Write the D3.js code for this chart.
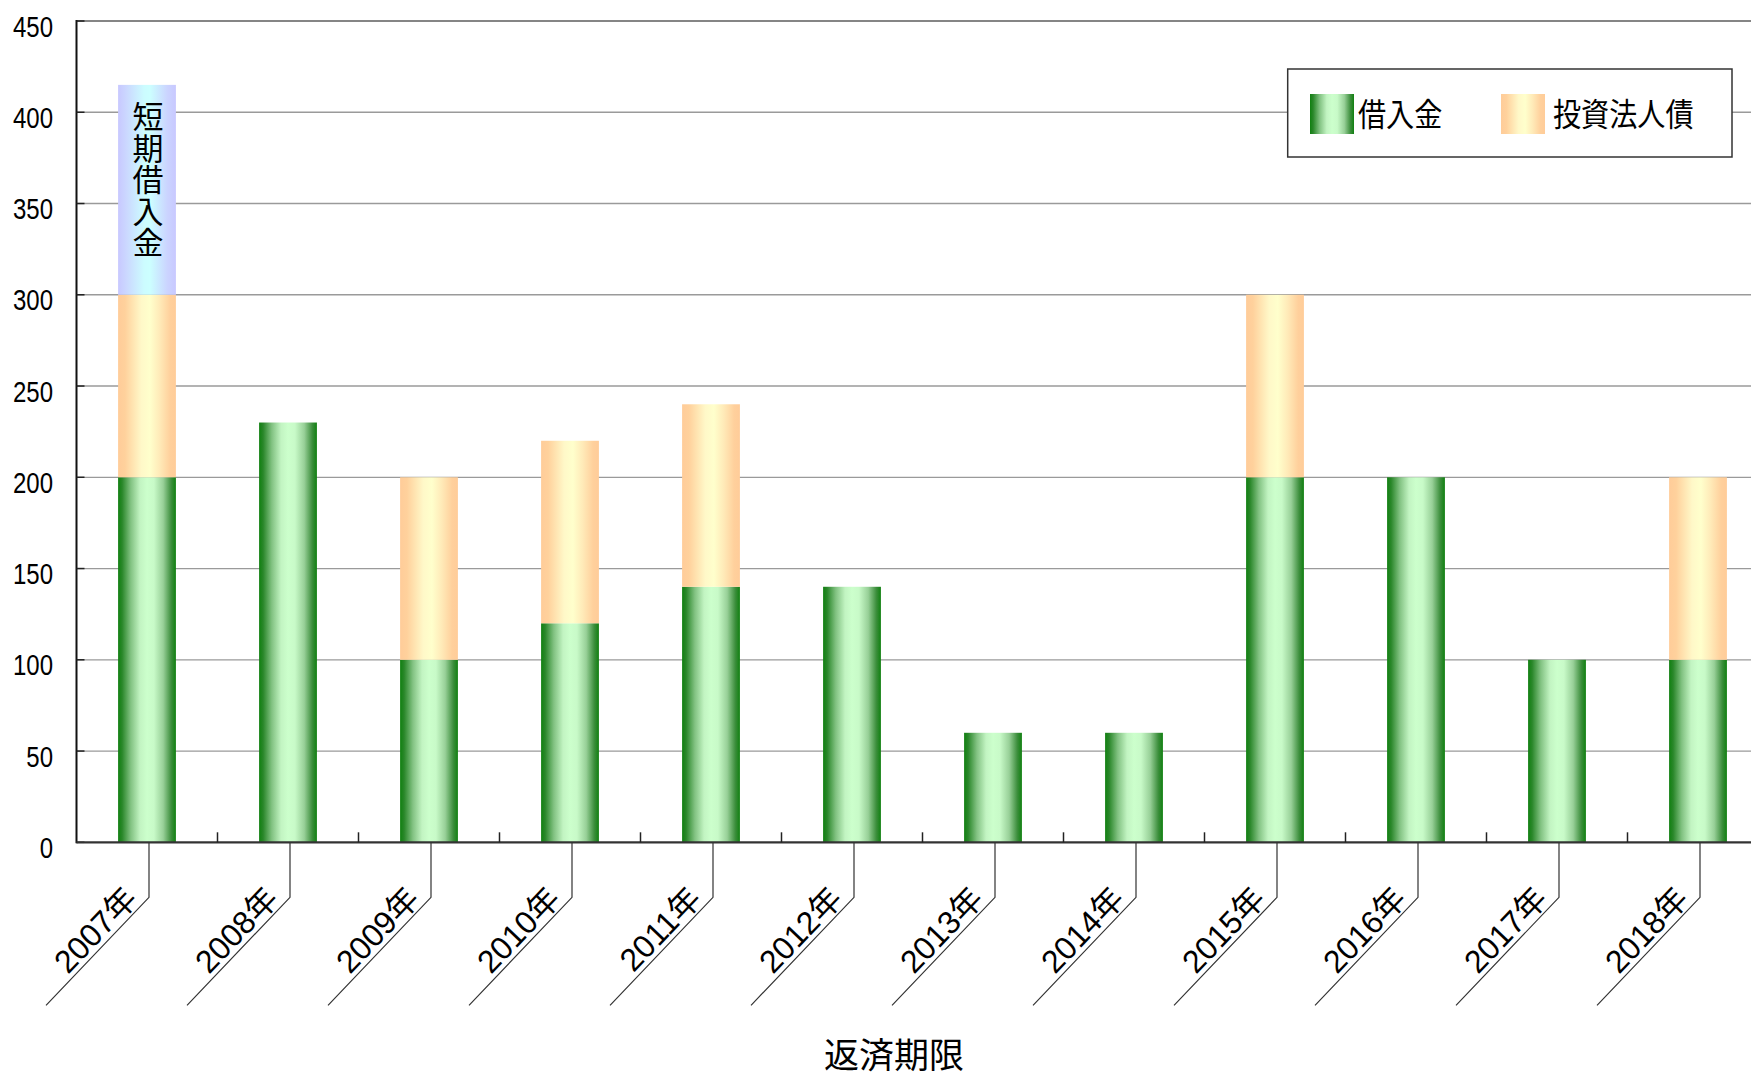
<!DOCTYPE html>
<html><head><meta charset="utf-8">
<script src="https://cdn.jsdelivr.net/npm/d3@7"></script>
<style>html,body{margin:0;padding:0;background:#fff;}svg{display:block;}</style>
</head><body>
<svg id="c" width="1751" height="1077"></svg>
<script>
// ---- data ----
const years = ['2007年','2008年','2009年','2010年','2011年','2012年','2013年','2014年','2015年','2016年','2017年','2018年'];
const loans = [200,230,100,120,140,140,60,60,200,200,100,100];      // 借入金
const bonds = [100,0,100,100,100,0,0,0,100,0,0,100];                // 投資法人債
const shortTerm = [115,0,0,0,0,0,0,0,0,0,0,0];                       // 短期借入金
const yTicks = [0,50,100,150,200,250,300,350,400,450];
const seriesNames = ['借入金','投資法人債'];
const shortLabel = '短期借入金';
const xTitle = '返済期限';

(function () {
const svg = d3.select('#c');
const pLeft = 76.5, pTop = 21, pBottom = 842.3, step = 141;
const x = d3.scaleBand().domain(years).range([pLeft, pLeft + step * years.length]).padding(0);
const y = d3.scaleLinear().domain([0, 450]).range([pBottom, pTop]);
const barW = x.bandwidth() * 0.41;

const latin = '"Liberation Sans", Arial, sans-serif';
const cjk = '"Noto Sans CJK JP", "Noto Sans CJK SC", sans-serif';

// ---- gradients ----
const defs = svg.append('defs');
function grad(id, stops) {
  const g = defs.append('linearGradient').attr('id', id).attr('x1', '0%').attr('x2', '100%').attr('y1', '0%').attr('y2', '0%');
  stops.forEach(s => g.append('stop').attr('offset', s[0]).attr('stop-color', s[1]));
}
grad('gGreen', [[0,'#108010'],[0.07,'#2a872a'],[0.22,'#82c282'],[0.38,'#c2f4c2'],[0.5,'#ccffcc'],[0.62,'#c8fac8'],[0.78,'#98d098'],[0.92,'#3c8e3c'],[1,'#108010']]);
grad('gOrange', [[0,'#ffcc99'],[0.12,'#ffd19c'],[0.4,'#fff8c8'],[0.55,'#ffffcc'],[0.72,'#ffeab8'],[0.9,'#ffd09c'],[1,'#ffcc99']]);
grad('gBlue', [[0,'#c8c8ff'],[0.15,'#cbd8ff'],[0.45,'#ccfcff'],[0.55,'#ccffff'],[0.85,'#cbd4ff'],[1,'#c8c8ff']]);

// ---- grid ----
svg.append('g').selectAll('line').data(yTicks.filter(d => d > 0 && d < 450)).join('line')
  .attr('x1', pLeft).attr('x2', x.range()[1]).attr('y1', d => y(d)).attr('y2', d => y(d))
  .attr('stroke', '#9a9a9a').attr('stroke-width', 1.3);
svg.append('line').attr('x1', pLeft).attr('x2', x.range()[1]).attr('y1', y(450)).attr('y2', y(450))
  .attr('stroke', '#858585').attr('stroke-width', 2.2);

// ---- bars ----
const rows = years.map((yr, i) => ({year: yr, loans: loans[i], bonds: bonds[i], short: shortTerm[i]}));
const keys = ['loans', 'bonds', 'short'];
const fills = {loans: 'url(#gGreen)', bonds: 'url(#gOrange)', short: 'url(#gBlue)'};
const stacked = d3.stack().keys(keys)(rows);
const gBars = svg.append('g');
stacked.forEach(layer => {
  gBars.selectAll(null).data(layer.filter(d => d[1] > d[0])).join('rect')
    .attr('x', d => x(d.data.year) + (x.bandwidth() - barW) / 2)
    .attr('width', barW)
    .attr('y', d => y(d[1]))
    .attr('height', d => y(d[0]) - y(d[1]))
    .attr('fill', fills[layer.key]);
});

// short-term label (vertical, one text element)
stacked[2].forEach(d => {
  if (d[1] > d[0]) {
    const cx = x(d.data.year) + x.bandwidth() / 2 + 1;
    const t0 = y(d[1]);
    svg.append('text')
      .attr('x', cx).attr('y', t0 + 16)
      .style('writing-mode', 'vertical-rl').style('text-orientation', 'upright')
      .attr('letter-spacing', 0.5)
      .attr('font-family', cjk).attr('font-size', 31)
      .attr('fill', '#000').text(shortLabel);
  }
});

// ---- y axis ----
svg.append('line').attr('x1', pLeft).attr('x2', pLeft).attr('y1', pTop - 1).attr('y2', pBottom + 1)
  .attr('stroke', '#111').attr('stroke-width', 2);
svg.append('g').selectAll('line').data(yTicks).join('line')
  .attr('x1', pLeft).attr('x2', pLeft + 8).attr('y1', d => y(d)).attr('y2', d => y(d))
  .attr('stroke', '#222').attr('stroke-width', 1.5);
svg.append('g').selectAll('text').data(yTicks).join('text')
  .attr('transform', d => `translate(53,${y(d) + 15.5}) scale(0.8,1)`)
  .attr('text-anchor', 'end').attr('font-family', latin).attr('font-size', 30).attr('fill', '#000')
  .text(d => d);

// ---- x axis ----
svg.append('line').attr('x1', pLeft).attr('x2', x.range()[1]).attr('y1', pBottom).attr('y2', pBottom)
  .attr('stroke', '#333').attr('stroke-width', 2.2);
svg.append('g').selectAll('line').data(years.slice(1)).join('line')
  .attr('x1', d => x(d)).attr('x2', d => x(d)).attr('y1', pBottom).attr('y2', pBottom - 10)
  .attr('stroke', '#222').attr('stroke-width', 1.5);

const knee = 55, dx = 103, dy = 108;
const ang = -Math.atan2(dy, dx) * 180 / Math.PI;
const gl = svg.append('g');
years.forEach(yr => {
  const cx = x(yr) + x.bandwidth() / 2 + 2;
  gl.append('path')
    .attr('d', `M${cx},${pBottom} L${cx},${pBottom + knee} L${cx - dx},${pBottom + knee + dy}`)
    .attr('fill', 'none').attr('stroke', '#333').attr('stroke-width', 1.2);
  gl.append('text')
    .attr('transform', `translate(${cx},${pBottom + knee}) rotate(${ang})`)
    .attr('x', -9).attr('y', -5)
    .attr('text-anchor', 'end').attr('font-family', latin + ',' + cjk).attr('font-size', 32)
    .attr('fill', '#000').text(yr);
});

svg.append('text').attr('x', 894).attr('y', 1068).attr('text-anchor', 'middle')
  .attr('font-family', cjk).attr('font-size', 35).attr('fill', '#000').text(xTitle);

// ---- legend ----
const lg = svg.append('g');
lg.append('rect').attr('x', 1287.7).attr('y', 69).attr('width', 444.3).attr('height', 88)
  .attr('fill', '#fff').attr('stroke', '#333').attr('stroke-width', 1.5);
const legItems = [
  {name: seriesNames[0], fill: 'url(#gGreen)', sx: 1310, tx: 1358},
  {name: seriesNames[1], fill: 'url(#gOrange)', sx: 1501, tx: 1553}
];
legItems.forEach(it => {
  lg.append('rect').attr('x', it.sx).attr('y', 94).attr('width', 44).attr('height', 40).attr('fill', it.fill);
  lg.append('text').attr('transform', `translate(${it.tx},126) scale(0.97,1.1)`)
    .attr('font-family', cjk).attr('font-size', 29).attr('fill', '#000').text(it.name);
});
})();
</script>
</body></html>
